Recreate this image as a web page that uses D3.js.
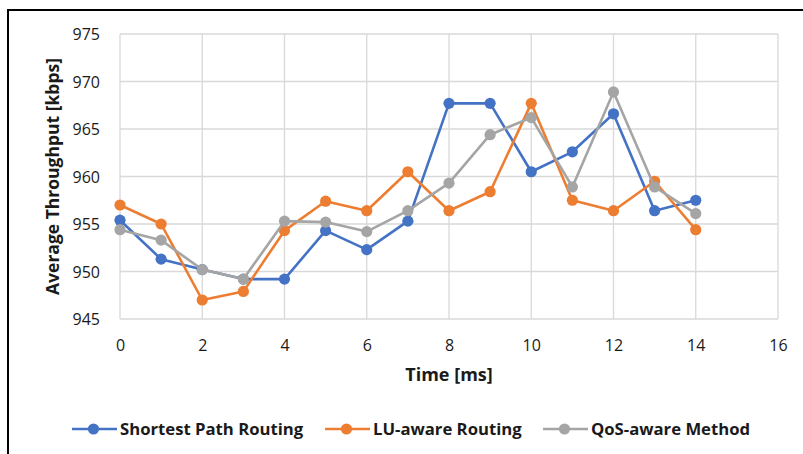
<!DOCTYPE html>
<html>
<head>
<meta charset="utf-8">
<script src="https://cdn.jsdelivr.net/npm/d3@7"></script>
<style>
  html, body { margin: 0; padding: 0; background: #fff; }
  svg { display: block; }
</style>
</head>
<body>
<svg id="chart" width="803" height="454"></svg>
<script>
// Average throughput over time for three routing approaches
const times = [0, 1, 2, 3, 4, 5, 6, 7, 8, 9, 10, 11, 12, 13, 14];
const shortestPath = [955.4, 951.3, 950.2, 949.2, 949.2, 954.3, 952.3, 955.3, 967.7, 967.7, 960.5, 962.6, 966.6, 956.4, 957.5];
const luAware      = [957.0, 955.0, 947.0, 947.9, 954.3, 957.4, 956.4, 960.5, 956.4, 958.4, 967.7, 957.5, 956.4, 959.5, 954.4];
const qosAware     = [954.4, 953.3, 950.2, 949.2, 955.3, 955.2, 954.2, 956.4, 959.3, 964.4, 966.2, 958.9, 968.9, 958.9, 956.1];
const seriesNames  = ["Shortest Path Routing", "LU-aware Routing", "QoS-aware Method"];
const seriesColors = ["#4472C4", "#ED7D31", "#A5A5A5"];
const xTicks = [0, 2, 4, 6, 8, 10, 12, 14, 16];
const yTicks = [945, 950, 955, 960, 965, 970, 975];

const series = [shortestPath, luAware, qosAware].map((vals, i) => ({
  name: seriesNames[i],
  color: seriesColors[i],
  points: vals.map((v, j) => ({ t: times[j], v }))
}));

const svg = d3.select("#chart");
const font = "'Open Sans', Lato, sans-serif";
const textColor = "#1a1a1a";

// outer frame
svg.append("rect")
  .attr("x", 8).attr("y", 10)
  .attr("width", 900).attr("height", 900)
  .attr("fill", "none").attr("stroke", "#000").attr("stroke-width", 2);

const plot = { left: 120, right: 778, top: 34, bottom: 319 };
const x = d3.scaleLinear().domain([0, 16]).range([plot.left, plot.right]);
const y = d3.scaleLinear().domain([945, 975]).range([plot.bottom, plot.top]);

// grid
const grid = svg.append("g");
grid.selectAll("line.v").data(xTicks).join("line")
  .attr("x1", d => x(d)).attr("x2", d => x(d))
  .attr("y1", plot.top).attr("y2", plot.bottom)
  .attr("stroke", "#d9d9d9").attr("stroke-width", 1.3);
grid.selectAll("line.h").data(yTicks).join("line")
  .attr("x1", plot.left).attr("x2", plot.right)
  .attr("y1", d => y(d)).attr("y2", d => y(d))
  .attr("stroke", "#d9d9d9").attr("stroke-width", 1.3);

// axes (tick labels only)
const xAxis = svg.append("g")
  .attr("transform", "translate(0,345)")
  .call(d3.axisBottom(x).tickValues(xTicks).tickSize(0).tickPadding(0));
const yAxis = svg.append("g")
  .attr("transform", "translate(100,0)")
  .call(d3.axisLeft(y).tickValues(yTicks).tickSize(0).tickPadding(0));
[xAxis, yAxis].forEach(a => {
  a.select(".domain").remove();
  a.selectAll("text")
    .attr("font-family", font).attr("font-size", 16).attr("fill", textColor)
    .attr("dy", "0.35em");
});

// axis titles
svg.append("text")
  .attr("x", (plot.left + plot.right) / 2).attr("y", 381)
  .attr("text-anchor", "middle")
  .attr("font-family", font).attr("font-size", 18).attr("font-weight", "bold")
  .attr("fill", textColor)
  .text("Time [ms]");
svg.append("text")
  .attr("transform", `translate(53,${(plot.top + plot.bottom) / 2}) rotate(-90)`)
  .attr("text-anchor", "middle").attr("dy", "0.35em")
  .attr("font-family", font).attr("font-size", 17.5).attr("font-weight", "bold")
  .attr("fill", textColor)
  .text("Average Throughput [kbps]");

// series lines and markers
const line = d3.line().x(d => x(d.t)).y(d => y(d.v));
series.forEach(s => {
  const g = svg.append("g");
  g.append("path")
    .attr("d", line(s.points))
    .attr("fill", "none").attr("stroke", s.color)
    .attr("stroke-width", 2.6).attr("stroke-linejoin", "round");
  g.selectAll("circle").data(s.points).join("circle")
    .attr("cx", d => x(d.t)).attr("cy", d => y(d.v))
    .attr("r", 5.6).attr("fill", s.color);
});

// legend
const legendX = [72, 325, 543];
const legend = svg.append("g");
series.forEach((s, i) => {
  const g = legend.append("g").attr("transform", `translate(${legendX[i]},429)`);
  g.append("line").attr("x1", 0).attr("x2", 45).attr("y1", 0).attr("y2", 0)
    .attr("stroke", s.color).attr("stroke-width", 2.6);
  g.append("circle").attr("cx", 21.5).attr("cy", 0).attr("r", 5.6).attr("fill", s.color);
  g.append("text").attr("x", 48).attr("y", 0).attr("dy", "0.35em")
    .attr("font-family", font).attr("font-size", 16.7).attr("font-weight", "bold")
    .attr("fill", textColor)
    .text(s.name);
});
</script>
</body>
</html>
